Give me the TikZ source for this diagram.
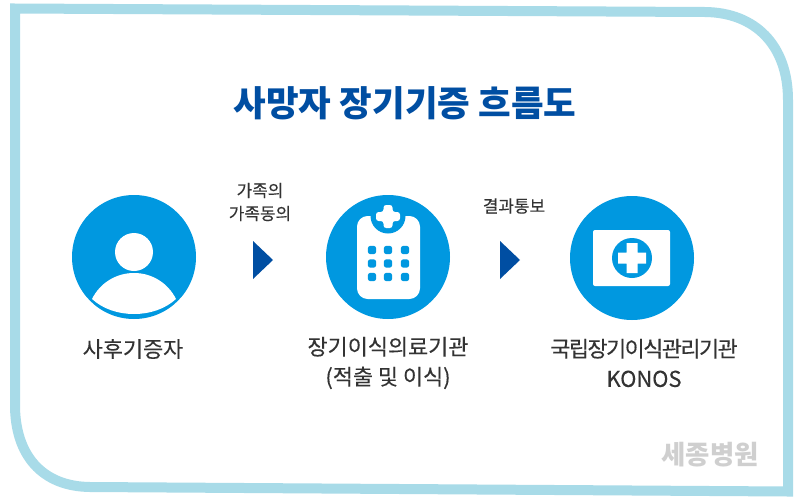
\documentclass[tikz,border=0pt]{standalone}
\usepackage{fontspec}
\setmainfont{Noto Sans CJK KR}
\newfontfamily\labelfont[FakeBold=0.25]{Noto Sans CJK KR}
\newfontfamily\tightfont[FakeBold=0.25,LetterSpace=-7]{Noto Sans CJK KR}
\tikzset{
  disc/.style={circle,fill=discblue,minimum size=93pt,inner sep=0pt},
  pointer/.style={fill=arrowblue},
  caption/.style={inner sep=0.75pt,align=center,text=textgray,font=\labelfont\fontsize{16.4}{22.5}\selectfont},
  smallcaption/.style={inner sep=0.75pt,align=center,text=textgray,font=\labelfont\fontsize{12.7}{17.2}\selectfont},
}
\definecolor{discblue}{HTML}{0098E0}
\definecolor{arrowblue}{HTML}{004EA2}
\definecolor{framecyan}{HTML}{A8DBE8}
\definecolor{textgray}{HTML}{333333}
\definecolor{markgray}{HTML}{CFCFCF}
\begin{document}
\begin{tikzpicture}[x=0.75pt,y=0.75pt,yscale=-1,xscale=1]
    \useasboundingbox (0,0) rectangle (800,500);
    \fill [white] (0,0) rectangle (800,500);

    %Shape: Frame
    \draw [framecyan,line width=7.5pt] (15,8.5) -- (705,12) .. controls (755,12.5) and (788,45) .. (788,100) -- (788,491.5) -- (90,487) .. controls (42,486.5) and (15,455) .. (15,405) -- cycle;

    % Text Node
    \node (title) at (405,103) [inner sep=0.75pt,text=arrowblue,font=\fontsize{26.6}{30}\selectfont\bfseries] {사망자 장기기증 흐름도};

    %Shape: Circle
    \node (donor) at (134,257) [disc] {};
    \node (hospital) at (388,257) [disc] {};
    \node (konos) at (632,258) [disc] {};

    %Shape: Person
    \fill [white] (134,252) circle [radius=19];
    \fill [white] (92,299) .. controls (100,283) and (116,273) .. (134,273) .. controls (152,273) and (168,283) .. (176,299) .. controls (165,309) and (150,314) .. (134,314) .. controls (118,314) and (103,309) .. (92,299) -- cycle;

    %Shape: Clipboard
    \fill [white,rounded corners=8] (357,216) rectangle (420,299);
    \fill [discblue] (370.5,214) -- (405.5,214) -- (405.5,216) arc [start angle=0,end angle=180,radius=17.5] -- cycle;
    \fill [white,rounded corners=2] (383.5,205) -- (392.5,205) -- (392.5,212) -- (400,212) -- (400,221) -- (392.5,221) -- (392.5,228) -- (383.5,228) -- (383.5,221) -- (376,221) -- (376,212) -- (383.5,212) -- cycle;
    \foreach \dotx in {372,388,405} {
      \foreach \doty in {250,263.5,277} {
        \fill [discblue,rounded corners=2] (\dotx-4.2,\doty-4.2) rectangle (\dotx+4.2,\doty+4.2);
      }
    }

    %Shape: Card
    \fill [white,rounded corners=1.5] (593,230) rectangle (670,286);
    \fill [discblue] (632,258) circle [radius=20];
    \fill [white] (626.5,243) -- (637.5,243) -- (637.5,252.5) -- (646,252.5) -- (646,263.5) -- (637.5,263.5) -- (637.5,273) -- (626.5,273) -- (626.5,263.5) -- (618,263.5) -- (618,252.5) -- (626.5,252.5) -- cycle;

    %Shape: Triangle
    \fill [pointer] (253,241) -- (273,260) -- (253,279) -- cycle;
    \fill [pointer] (500,241) -- (520,260) -- (500,279) -- cycle;

    % Text Node
    \node (donorlabel) at (133,349) [caption] {사후기증자};
    % Text Node
    \node (hospitallabel) at (388,363) [caption] {장기이식의료기관\\(적출 및 이식)};
    % Text Node
    \node (konoslabel) at (644,363) [caption] {{\tightfont\fontsize{16.4}{22.5}\selectfont 국립장기이식관리기관}\\KONOS};
    % Text Node
    \node (consentlabel) at (260,202) [smallcaption] {가족의\\가족동의};
    % Text Node
    \node (resultlabel) at (514,206) [smallcaption] {결과통보};
    % Text Node
    \node (watermark) at (710,455) [inner sep=0.75pt,text=markgray,font=\fontsize{19.8}{24}\selectfont\bfseries] {세종병원};
\end{tikzpicture}
\end{document}
